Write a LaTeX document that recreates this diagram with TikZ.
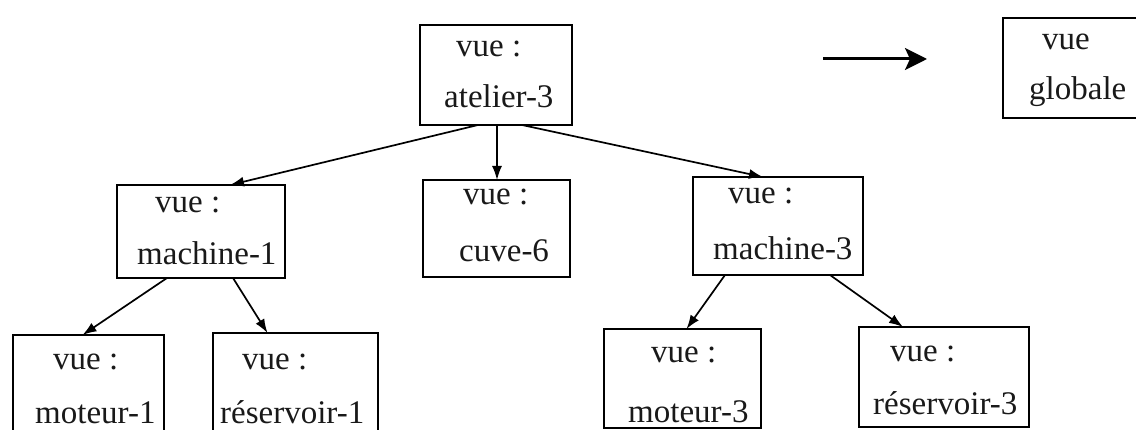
\documentclass[tikz,border=0pt]{standalone}
\usepackage{fontspec}
\setmainfont{Liberation Serif}
\usetikzlibrary{arrows.meta}
\tikzset{
  box/.style={draw, line width=2pt, anchor=north west, inner sep=0pt, outer sep=0pt},
  lbl/.style={anchor=base west, inner sep=0pt, font=\fontsize{33}{40}\selectfont, text=black!90},
  arr/.style={line width=1.7pt, -{Latex[length=14pt,width=10pt]}},
  bigarr/.style={line width=3pt, -{Stealth[length=22pt,width=22pt,inset=5pt]}}
}
\begin{document}
\begin{tikzpicture}[x=1pt,y=-1pt]
\useasboundingbox (0,0) rectangle (1136,430);
\clip (0,0) rectangle (1136,430);
% boxes
\node[box, minimum width=152pt, minimum height=100pt] (at) at (420,25) {};
\node[box, minimum width=140pt, minimum height=100pt] (gl) at (1003,18) {};
\node[box, minimum width=168pt, minimum height=93pt] (m1) at (117,185) {};
\node[box, minimum width=147pt, minimum height=97pt] (cv) at (423,180) {};
\node[box, minimum width=170pt, minimum height=98pt] (m3) at (693,177) {};
\node[box, minimum width=151pt, minimum height=110pt] (mo1) at (13,335) {};
\node[box, minimum width=165pt, minimum height=110pt] (r1) at (213,333) {};
\node[box, minimum width=157pt, minimum height=99pt] (mo3) at (604,329) {};
\node[box, minimum width=170pt, minimum height=100pt] (r3) at (859,327) {};
% labels
\node[lbl] (at1) at (456,57) {vue :};
\node[lbl] (at2) at (444,108) {atelier-3};
\node[lbl] (gl1) at (1042,50) {vue};
\node[lbl] (gl2) at (1029,100) {globale};
\node[lbl] (m11) at (155,213) {vue :};
\node[lbl] (m12) at (137,265) {machine-1};
\node[lbl] (cv1) at (463,205) {vue :};
\node[lbl] (cv2) at (459,262) {cuve-6};
\node[lbl] (m31) at (728,204) {vue :};
\node[lbl] (m32) at (713,260) {machine-3};
\node[lbl] (mo11) at (53,370) {vue :};
\node[lbl] (mo12) at (35,424) {moteur-1};
\node[lbl] (r11) at (242,370) {vue :};
\node[lbl] (r12) at (220,424) {réservoir-1};
\node[lbl] (mo31) at (651,363) {vue :};
\node[lbl] (mo32) at (628,422) {moteur-3};
\node[lbl] (r31) at (890,362) {vue :};
\node[lbl] (r32) at (873,414) {réservoir-3};
% connectors
\draw[arr] ([xshift=-18pt]at.south) -- ([xshift=29pt]m1.north);
\draw[arr] ([xshift=1pt]at.south) -- ([xshift=0.5pt]cv.north);
\draw[arr] ([xshift=26pt]at.south) -- ([xshift=-15pt]m3.north);
\draw[arr] ([xshift=-34pt]m1.south) -- ([xshift=-6pt]mo1.north);
\draw[arr] ([xshift=32pt]m1.south) -- ([xshift=-28pt]r1.north);
\draw[arr] ([xshift=-53pt]m3.south) -- ([xshift=4pt]mo3.north);
\draw[arr] ([xshift=52pt]m3.south) -- ([xshift=-41pt]r3.north);
\coordinate (a0) at (823,59);
\coordinate (a1) at (927,59);
\draw[bigarr] (a0) -- (a1);
\end{tikzpicture}
\end{document}
